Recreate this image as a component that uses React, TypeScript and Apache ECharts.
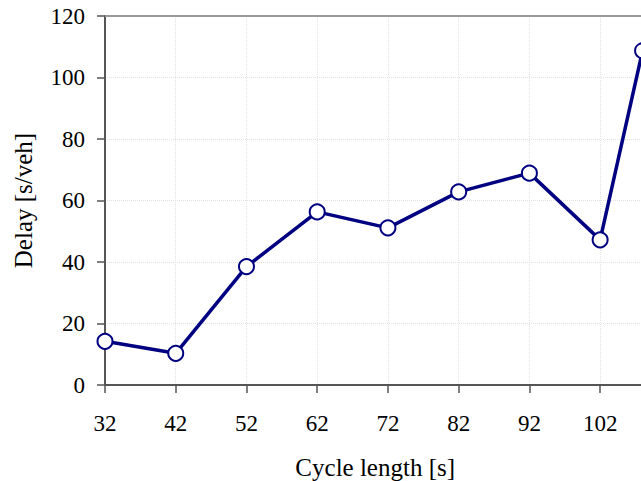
import React, { useEffect, useRef } from "react";
import * as echarts from "echarts";

const cycleLengths = [32, 42, 52, 62, 72, 82, 92, 102, 108];
const delays = [14.2, 10.3, 38.5, 56.3, 51.1, 62.8, 68.9, 47.2, 108.7];
const yTicks = [0, 20, 40, 60, 80, 100, 120];

const FONT = "'Liberation Serif', 'Times New Roman', serif";

export default function App() {
  const ref = useRef<HTMLDivElement>(null);
  useEffect(() => {
    if (!ref.current) return;
    const chart = echarts.init(ref.current, null, { renderer: "svg" });
    chart.setOption({
      animation: false,
      backgroundColor: "#ffffff",
      grid: {
        left: 105,
        right: -4.4,
        top: 16,
        bottom: 96,
        containLabel: false,
        outerBoundsMode: "none",
        show: false,
      },
      xAxis: {
        type: "value",
        min: 32,
        max: 108.4,
        interval: 10,
        name: "Cycle length [s]",
        nameLocation: "middle",
        nameGap: 70,
        nameTextStyle: { fontFamily: FONT, fontSize: 25, color: "#000" },
        axisLine: { show: true, lineStyle: { color: "#555", width: 2 } },
        axisTick: { show: true, inside: false, length: 8, lineStyle: { color: "#555", width: 1.5 } },
        axisLabel: { fontFamily: FONT, fontSize: 23, color: "#000", margin: 27, showMaxLabel: false },
        splitLine: { show: true, lineStyle: { color: "#e2e2e2", type: "dotted", width: 1 } },
      },
      yAxis: {
        type: "value",
        min: yTicks[0],
        max: yTicks[yTicks.length - 1],
        interval: 20,
        name: "Delay [s/veh]",
        nameLocation: "middle",
        nameGap: 69,
        nameTextStyle: { fontFamily: FONT, fontSize: 25, color: "#000" },
        axisLine: { show: true, lineStyle: { color: "#555", width: 2 } },
        axisTick: { show: true, inside: false, length: 8, lineStyle: { color: "#555", width: 1.5 } },
        axisLabel: { fontFamily: FONT, fontSize: 23, color: "#000", margin: 20 },
        splitLine: { show: true, lineStyle: { color: "#e2e2e2", type: "dotted", width: 1 } },
      },
      graphic: [
        { type: "line", shape: { x1: 105, y1: 16, x2: 641, y2: 16 }, style: { stroke: "#999", lineWidth: 2 }, z: 10 },
      ],
      series: [
        {
          type: "line",
          data: cycleLengths.map((x, i) => [x, delays[i]]),
          lineStyle: { color: "#000080", width: 3.5 },
          symbol: "circle",
          symbolSize: 15,
          itemStyle: { color: "#ffffff", borderColor: "#000080", borderWidth: 2 },
          clip: false,
          z: 5,
        },
      ],
    });
    return () => chart.dispose();
  }, []);
  return (
    <div ref={ref} style={{ position: "fixed", left: 0, top: 0, width: 641, height: 481, overflow: "hidden" }} />
  );
}
